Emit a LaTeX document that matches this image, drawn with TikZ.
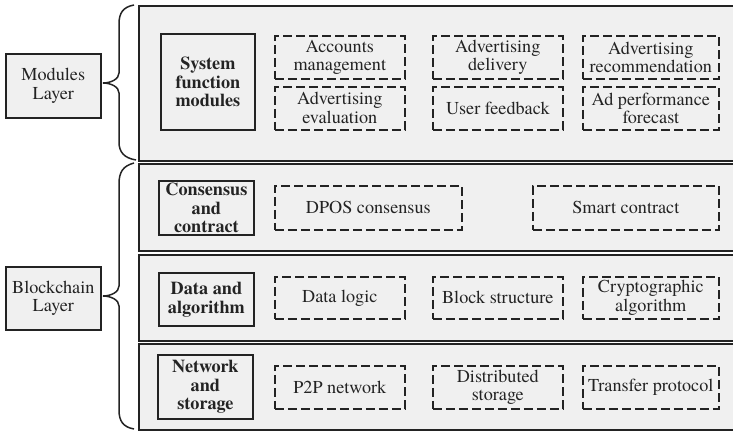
\documentclass[tikz,border=0pt]{standalone}
\usepackage{fontspec}
% Times-like face; Latin Modern (fixed 10pt design) if it is missing
\IfFontExistsTF{texgyretermes-regular.otf}{%
  \setmainfont{texgyretermes}[Extension=.otf, UprightFont=*-regular, BoldFont=*-bold,
    ItalicFont=*-italic, BoldItalicFont=*-bolditalic]
  \newcommand{\txt}{\fontsize{18.2}{18.8}\selectfont}
}{%
  \setmainfont{lmroman10}[Extension=.otf, UprightFont=*-regular, BoldFont=*-bold,
    ItalicFont=*-italic, BoldItalicFont=*-bolditalic]
  \newcommand{\txt}{\fontsize{17}{18.8}\selectfont}
}
\definecolor{bg}{RGB}{240,240,240}
\definecolor{ink}{RGB}{35,35,35}
\tikzset{
  % box of given width and height placed by its top left corner
  wh/.style 2 args={minimum width=#1pt, minimum height=#2pt},
  panel/.style={draw=ink, line width=1.6pt, fill=bg, anchor=north west, inner sep=0pt},
  layerbox/.style={draw=ink, line width=1.6pt, fill=bg, anchor=north west, inner sep=0pt, align=center, font=\txt, text=ink},
  headbox/.style={draw=ink, line width=1.8pt, fill=bg, anchor=north west, inner sep=0pt, align=center, font=\txt\bfseries, text=ink},
  itembox/.style={draw=ink, line width=1.6pt, dash pattern=on 9pt off 4pt, fill=bg, anchor=north west, inner sep=0pt, align=center, font=\txt, text=ink},
  bracepath/.style={draw=ink, line width=1.5pt}
}
\begin{document}
\begin{tikzpicture}[x=1pt, y=-1pt]
\useasboundingbox (0,0) rectangle (733,431);

% layer panels
\node[panel, wh={607}{155}] (pmod) at (138,5) {};
\node[panel, wh={607}{87}]  (pcon) at (138,163) {};
\node[panel, wh={607}{86}]  (pdat) at (138,254) {};
\node[panel, wh={607}{86}]  (pnet) at (138,343) {};

% layer labels on the left
\node[layerbox, wh={95}{64}] (lmod) at (5,53) {Modules\\Layer};
\node[layerbox, wh={95}{63}] (lblk) at (5,266) {Blockchain\\Layer};

% braces joining the labels to their panels
\coordinate (mt) at (134,5);
\coordinate (mtip) at (103,83);
\coordinate (mb) at (136,160);
\draw[bracepath] (mt) .. controls (123,7) and (119,13) .. (119,24) -- (119,73)
  .. controls (119,79) and (111,83) .. (mtip)
  .. controls (111,83) and (119,87) .. (119,93) -- (119,142)
  .. controls (119,152) and (124,158) .. (mb);
\coordinate (bt) at (134,163);
\coordinate (btip) at (103,296);
\coordinate (bb) at (134,429);
\draw[bracepath] (bt) .. controls (123,166) and (119,172) .. (119,184) -- (119,286)
  .. controls (119,292) and (111,296) .. (btip)
  .. controls (111,296) and (119,300) .. (119,306) -- (119,410)
  .. controls (119,421) and (123,427) .. (bb);

% headings of each layer
\node[headbox, wh={94}{96}] (hsys) at (160,33) {System\\function\\modules};
\node[headbox, wh={95}{54}] (hcon) at (158,180) {Consensus\\and\\contract};
\node[headbox, wh={95}{53}] (hdat) at (158,272) {Data and\\algorithm};
\node[headbox, wh={95}{64}] (hnet) at (157,354) {Network\\and\\storage};

% system function modules
\node[itembox, wh={130}{43}] (acc) at (274,35) {Accounts\\management};
\node[itembox, wh={130}{43}] (adl) at (432,35) {Advertising\\delivery};
\node[itembox, wh={136}{43}] (arc) at (582,35) {Advertising\\recommendation};
\node[itembox, wh={130}{43}] (aev) at (274,86) {Advertising\\evaluation};
\node[itembox, wh={130}{43}] (ufb) at (432,86) {User feedback};
\node[itembox, wh={136}{43}] (apf) at (582,86) {Ad performance\\forecast};

% consensus and contract
\node[itembox, wh={187}{44}] (dpos) at (274,185) {DPOS consensus};
\node[itembox, wh={186}{44}] (smc) at (532,185) {Smart contract};

% data and algorithm
\node[itembox, wh={130}{42}] (dlg) at (274,276) {Data logic};
\node[itembox, wh={130}{42}] (bst) at (432,276) {Block structure};
\node[itembox, wh={136}{42}] (cra) at (582,276) {Cryptographic\\algorithm};

% network and storage
\node[itembox, wh={130}{43}] (p2p) at (274,365) {P2P network};
\node[itembox, wh={130}{43}] (dst) at (432,365) {Distributed\\storage};
\node[itembox, wh={136}{43}] (tpr) at (582,365) {Transfer protocol};
\end{tikzpicture}
\end{document}
